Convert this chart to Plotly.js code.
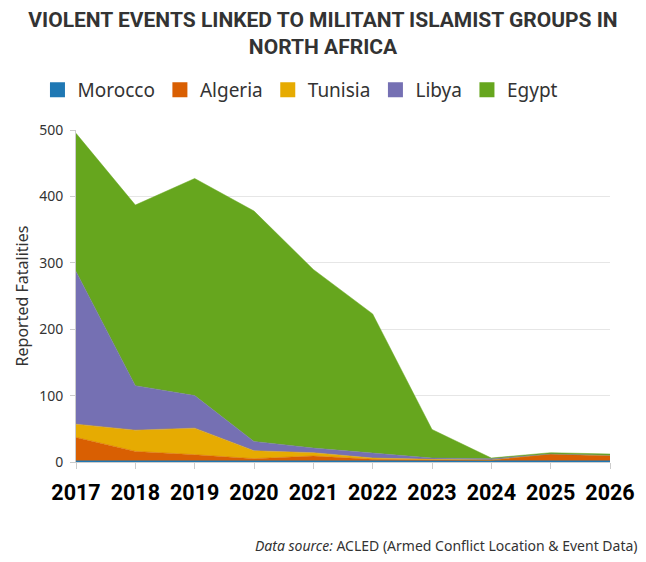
<!DOCTYPE html>
<html>
<head>
<meta charset="utf-8">
<script src="https://cdn.plot.ly/plotly-3.0.1.min.js"></script>
<style>
  html, body { margin: 0; padding: 0; background: #ffffff; }
  #chart { width: 646px; height: 562px; }
</style>
</head>
<body>
<div id="chart"></div>
<script>
// Reported fatalities by country (stacked areas)
var years = [2017, 2018, 2019, 2020, 2021, 2022, 2023, 2024, 2025, 2026];
var countries = ["Morocco", "Algeria", "Tunisia", "Libya", "Egypt"];
var morocco = [1, 1, 1, 1, 2, 1, 1, 1, 1, 1];
var algeria = [36, 15, 10, 4, 7, 3, 2, 2, 11, 8];
var tunisia = [20, 32, 40, 12, 5, 2, 1, 0, 0, 1];
var libya   = [230, 67, 49, 14, 7, 8, 2, 2, 0, 0];
var egypt   = [208, 272, 327, 347, 269, 209, 43, 1, 2, 2];
var colors  = ["#1f78b4", "#d95f02", "#e6ab02", "#7570b3", "#66a61e"];

var seriesValues = [morocco, algeria, tunisia, libya, egypt];

var traces = [];
// stacked areas
countries.forEach(function (name, i) {
  traces.push({
    type: "scatter", mode: "lines", name: name,
    x: years, y: seriesValues[i],
    stackgroup: "one",
    line: { color: colors[i], width: i === 0 ? 1.5 : 0.5 },
    fillcolor: colors[i],
    showlegend: false, hoverinfo: "skip"
  });
});
// legend entries: square swatches like the original
countries.forEach(function (name, i) {
  traces.push({
    type: "scatter", mode: "markers", name: name,
    x: [null], y: [null],
    marker: { symbol: "square", size: 15, color: colors[i], line: { width: 0 } },
    showlegend: true, hoverinfo: "skip"
  });
});

var AXIS_FONT = "Noto Sans, Open Sans, sans-serif";
var NARROW = "Liberation Sans Narrow, Roboto, sans-serif";

var layout = {
  width: 646, height: 562,
  paper_bgcolor: "#ffffff", plot_bgcolor: "#ffffff",
  margin: { l: 76, r: 36, t: 130, b: 100, autoexpand: false },
  font: { family: AXIS_FONT, color: "#333333", size: 14 },
  hovermode: false,
  title: {
    text: "VIOLENT EVENTS LINKED TO MILITANT ISLAMIST GROUPS IN<br>NORTH AFRICA",
    font: { family: NARROW, size: 21, weight: 700, color: "#333333" },
    x: 0.5, xref: "container", xanchor: "center",
    y: 0.952, yref: "container", yanchor: "top"
  },
  legend: {
    orientation: "h",
    xref: "container", yref: "container",
    x: 0.058, xanchor: "left", y: 0.84, yanchor: "middle",
    font: { family: AXIS_FONT, size: 19, color: "#333333" },
    itemwidth: 30, traceorder: "normal",
    bgcolor: "rgba(0,0,0,0)"
  },
  xaxis: {
    range: [2017, 2026], tickmode: "array", tickvals: years,
    ticktext: years.map(String), tickangle: 0,
    showgrid: false, zeroline: false,
    showline: true, linecolor: "#cccccc", linewidth: 1,
    ticks: "outside", ticklen: 6, tickcolor: "#cccccc", tickwidth: 1,
    ticklabelstandoff: 5,
    tickfont: { family: NARROW, size: 21.5, weight: 700, color: "#000000" },
    fixedrange: true
  },
  yaxis: {
    range: [0, 500], dtick: 100, tick0: 0,
    showgrid: true, gridcolor: "#e6e6e6", gridwidth: 1,
    zeroline: false,
    showline: true, linecolor: "#cccccc", linewidth: 1,
    ticks: "outside", ticklen: 5, tickcolor: "#cccccc",
    ticklabelstandoff: 4,
    tickfont: { family: AXIS_FONT, size: 14, color: "#333333" },
    title: { text: "Reported Fatalities", font: { family: AXIS_FONT, size: 16, color: "#333333" }, standoff: 6 },
    fixedrange: true
  },
  annotations: [{
    xref: "paper", yref: "paper", x: 1.056, y: -0.252,
    xanchor: "right", yanchor: "middle", showarrow: false,
    text: "<i>Data source:</i> ACLED (Armed Conflict Location &amp; Event Data)",
    font: { family: AXIS_FONT, size: 14, color: "#333333" }
  }]
};

Plotly.newPlot("chart", traces, layout, { displayModeBar: false, staticPlot: true });
</script>
</body>
</html>
